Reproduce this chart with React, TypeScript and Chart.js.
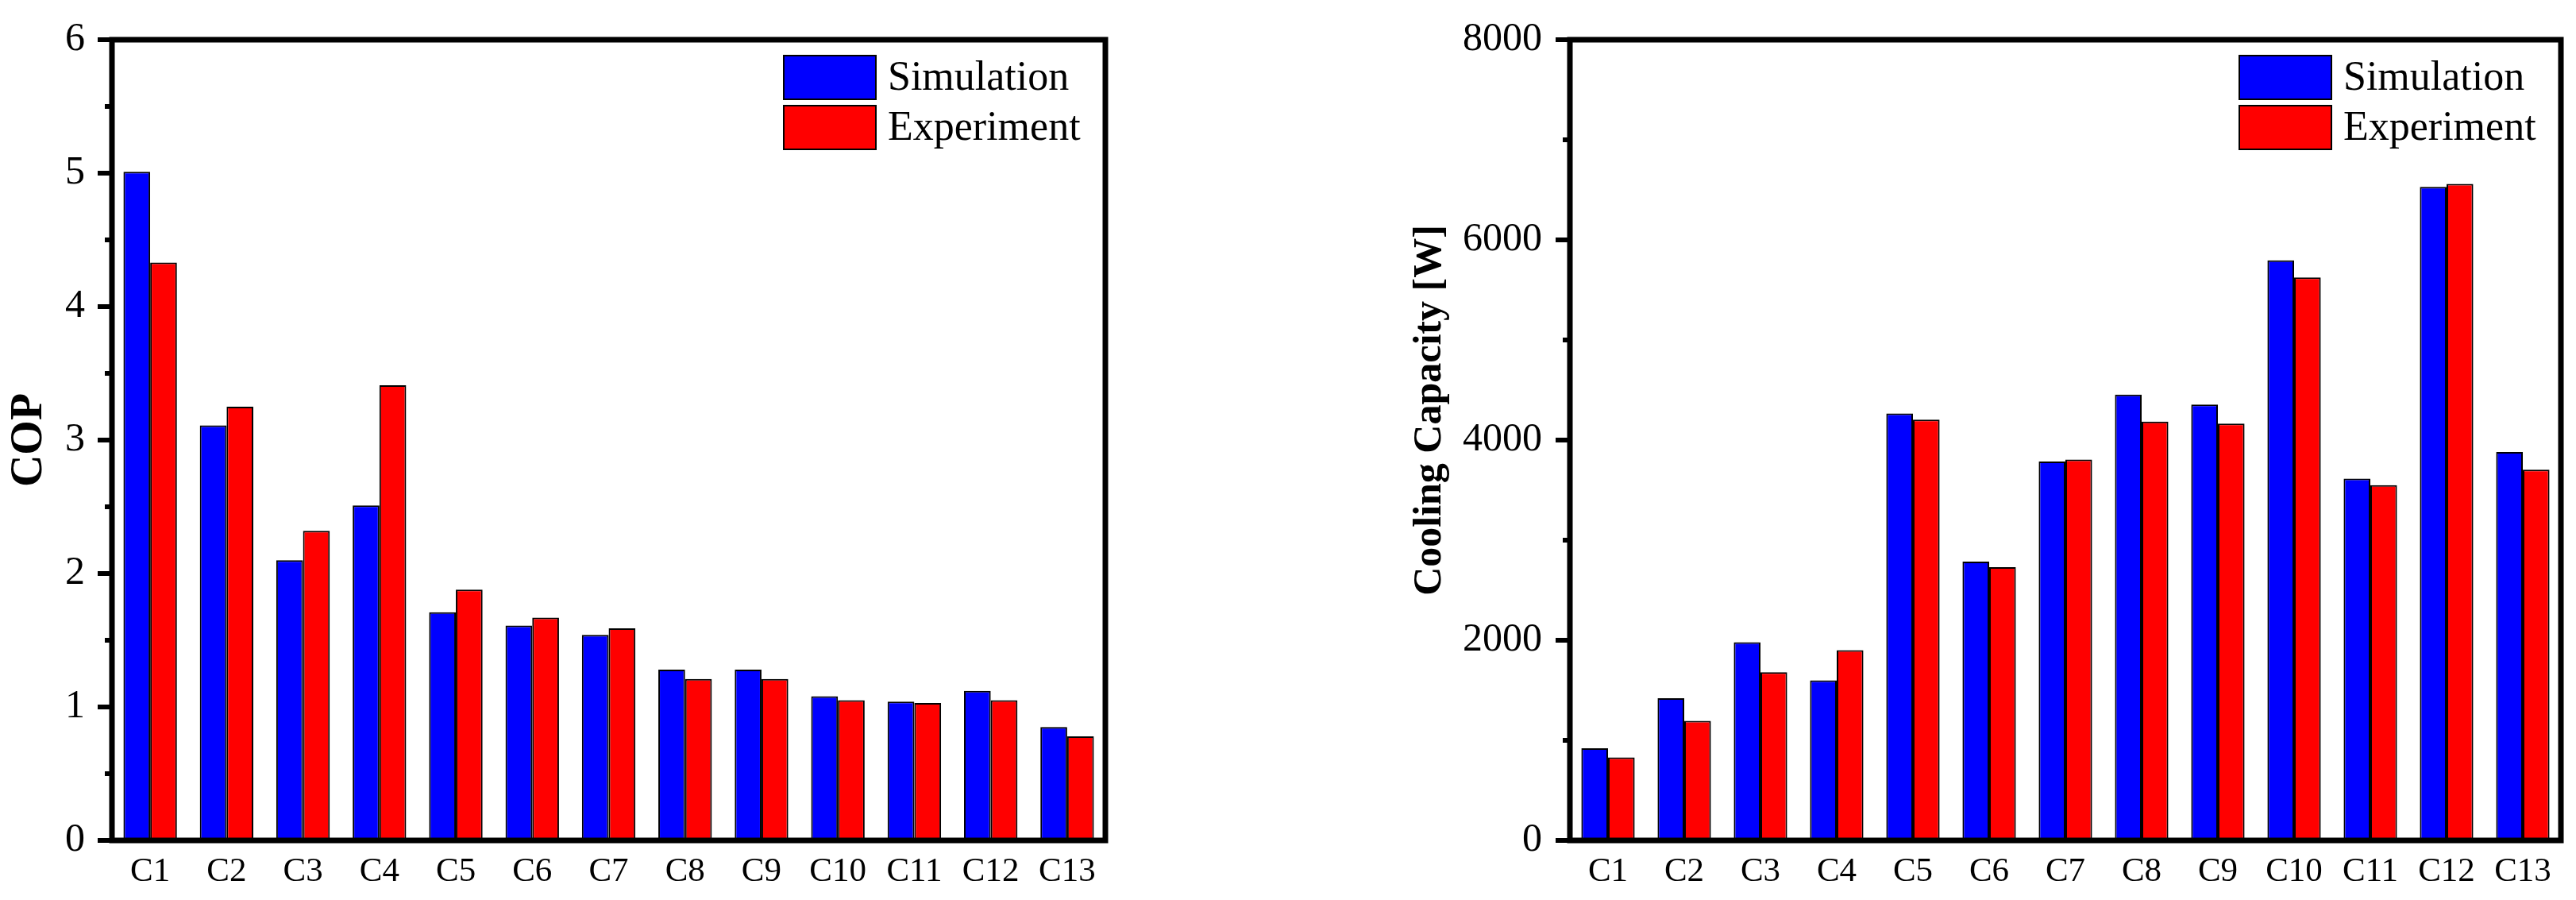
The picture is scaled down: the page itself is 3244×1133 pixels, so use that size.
import { useEffect, useRef } from 'react'
import { Chart, registerables } from 'chart.js'

Chart.register(...registerables)

const SERIF = "'Liberation Serif', 'Times New Roman', serif"

const categories = ['C1', 'C2', 'C3', 'C4', 'C5', 'C6', 'C7', 'C8', 'C9', 'C10', 'C11', 'C12', 'C13']
const seriesNames = ['Simulation', 'Experiment']
const seriesColors = ['#0000FF', '#FF0000']

const copSimulation = [5.01, 3.11, 2.1, 2.51, 1.71, 1.61, 1.54, 1.28, 1.28, 1.08, 1.04, 1.12, 0.85]
const copExperiment = [4.33, 3.25, 2.32, 3.41, 1.88, 1.67, 1.59, 1.21, 1.21, 1.05, 1.03, 1.05, 0.78]

const capSimulation = [920, 1420, 1980, 1600, 4265, 2785, 3785, 4455, 4355, 5795, 3615, 6530, 3880]
const capExperiment = [830, 1195, 1680, 1900, 4205, 2730, 3805, 4185, 4165, 5625, 3550, 6560, 3705]

// frame, outward ticks (major + minor) and the legend box in the upper right
const framePlugin = {
  id: 'frame',
  afterDraw(chart: any) {
    const { ctx, chartArea: ca } = chart
    const y = chart.scales.y
    const major = chart.options.plugins.frame.major
    ctx.save()
    ctx.strokeStyle = '#000'
    ctx.lineWidth = 6
    ctx.lineCap = 'butt'
    for (const t of y.ticks) {
      const py = y.getPixelForValue(t.value)
      const len = Math.abs(t.value % major) < 1e-9 ? 18 : 9
      ctx.beginPath()
      ctx.moveTo(ca.left - len, py)
      ctx.lineTo(ca.left, py)
      ctx.stroke()
    }
    ctx.lineWidth = 7
    ctx.strokeRect(ca.left, ca.top, ca.right - ca.left, ca.bottom - ca.top)

    chart.data.datasets.forEach((ds: any, i: number) => {
      const bx = ca.right - 405
      const by = ca.top + 20 + i * 63
      ctx.fillStyle = ds.backgroundColor
      ctx.fillRect(bx, by, 116, 55)
      ctx.lineWidth = 2
      ctx.strokeStyle = '#000'
      ctx.strokeRect(bx, by, 116, 55)
      ctx.fillStyle = '#000'
      ctx.font = `52px ${SERIF}`
      ctx.textBaseline = 'middle'
      ctx.textAlign = 'left'
      ctx.fillText(ds.label, bx + 131, by + 29)
    })
    ctx.restore()
  },
}

type Props = {
  sim: number[]
  exp: number[]
  yMax: number
  step: number
  major: number
  title: string
  titleSize: number
  titlePad: number
  axisWidth: number
  tickPad: number
  padRight: number
}

function BarPanel(p: Props) {
  const ref = useRef<HTMLCanvasElement>(null)

  useEffect(() => {
    if (!ref.current) return
    const chart = new Chart(ref.current, {
      type: 'bar',
      data: {
        labels: categories,
        datasets: [p.sim, p.exp].map((d, i) => ({
          label: seriesNames[i],
          data: d,
          backgroundColor: seriesColors[i],
          borderColor: '#000',
          borderWidth: 2,
          categoryPercentage: 0.7,
          barPercentage: 1,
        })),
      },
      options: {
        responsive: true,
        maintainAspectRatio: false,
        animation: false,
        layout: { padding: { left: 0, right: p.padRight, top: 50, bottom: 0 } },
        plugins: {
          legend: { display: false },
          tooltip: { enabled: false },
          frame: { major: p.major },
        } as any,
        scales: {
          x: {
            grid: { display: false, drawTicks: false },
            border: { display: false },
            ticks: { color: '#000', font: { family: SERIF, size: 43 }, padding: 14, maxRotation: 0, autoSkip: false },
            afterFit: (s: any) => {
              s.height = 75
            },
          },
          y: {
            min: 0,
            max: p.yMax,
            grid: { display: false, drawTicks: false },
            border: { display: false },
            ticks: {
              stepSize: p.step,
              autoSkip: false,
              color: '#000',
              font: { family: SERIF, size: 50 },
              padding: p.tickPad,
              callback: (v: any) => (Math.abs(Number(v) % p.major) < 1e-9 ? String(v) : ''),
            },
            title: {
              display: true,
              text: p.title,
              color: '#000',
              font: { family: SERIF, size: p.titleSize, weight: 'bold' },
              padding: { top: p.titlePad, bottom: 0 },
            },
            afterFit: (s: any) => {
              s.width = p.axisWidth
              s.paddingTop = 30
              s.paddingBottom = 30
            },
          },
        },
      },
      plugins: [framePlugin],
    })
    return () => chart.destroy()
  }, [])

  return <canvas ref={ref} />
}

export default function App() {
  return (
    <div style={{ position: 'absolute', left: 0, top: 0, width: 3244, height: 1133, background: '#fff' }}>
      <div style={{ position: 'absolute', left: 0, top: 0, width: 1622, height: 1133 }}>
        <BarPanel
          sim={copSimulation}
          exp={copExperiment}
          yMax={6}
          step={0.5}
          major={1}
          title="COP"
          titleSize={56}
          titlePad={4}
          axisWidth={141}
          tickPad={34}
          padRight={230}
        />
      </div>
      <div style={{ position: 'absolute', left: 1622, top: 0, width: 1622, height: 1133 }}>
        <BarPanel
          sim={capSimulation}
          exp={capExperiment}
          yMax={8000}
          step={1000}
          major={2000}
          title={'      Cooling Capacity [W]'}
          titleSize={50}
          titlePad={149}
          axisWidth={355}
          tickPad={35}
          padRight={19}
        />
      </div>
    </div>
  )
}
